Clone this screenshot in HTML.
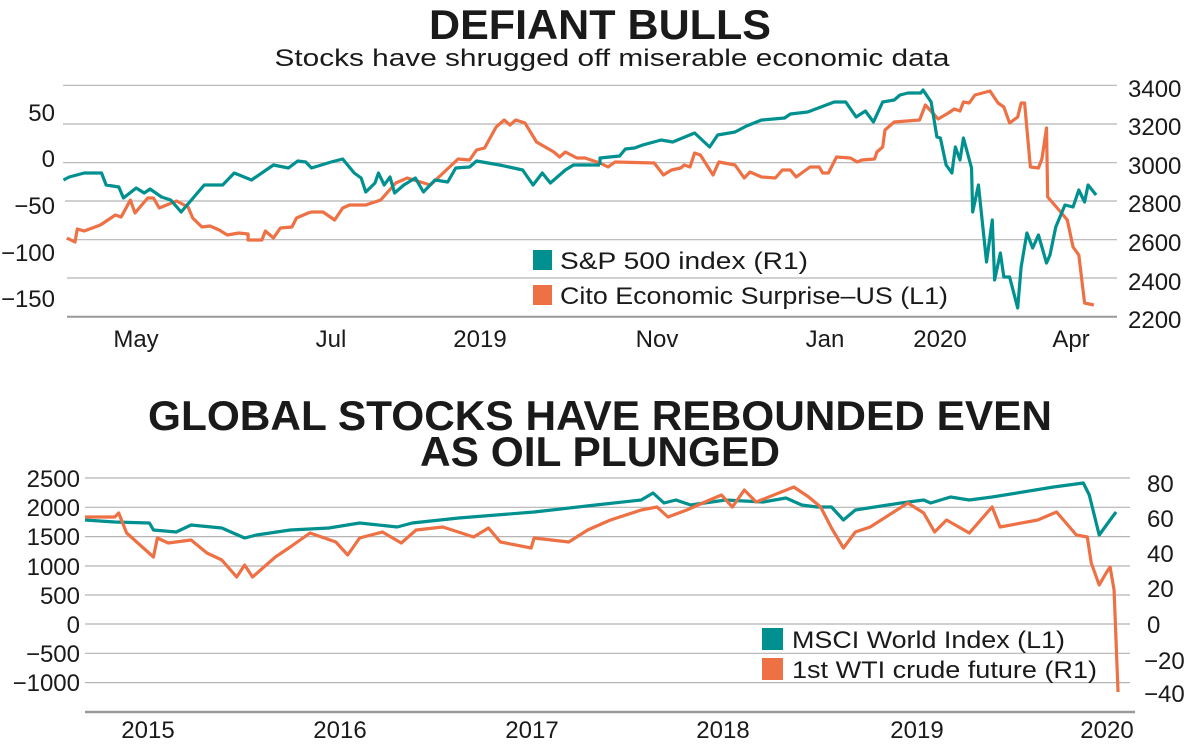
<!DOCTYPE html>
<html><head><meta charset="utf-8"><style>
html,body{margin:0;padding:0;background:#fff;}
svg{display:block;font-family:"Liberation Sans",sans-serif;}
</style></head><body>
<svg width="1200" height="746" viewBox="0 0 1200 746" xmlns="http://www.w3.org/2000/svg">
<g fill="#1a1a1a">
<text x="600" y="39" text-anchor="middle" font-size="42" font-weight="bold" textLength="342" lengthAdjust="spacingAndGlyphs">DEFIANT BULLS</text>
<text x="612" y="66" text-anchor="middle" font-size="24" textLength="675" lengthAdjust="spacingAndGlyphs">Stocks have shrugged off miserable economic data</text>
<text x="600" y="430" text-anchor="middle" font-size="42" font-weight="bold" textLength="904" lengthAdjust="spacingAndGlyphs">GLOBAL STOCKS HAVE REBOUNDED EVEN</text>
<text x="600" y="466" text-anchor="middle" font-size="42" font-weight="bold" textLength="360" lengthAdjust="spacingAndGlyphs">AS OIL PLUNGED</text>
</g>
<!-- top grid -->
<g stroke="#b5b5b5" stroke-width="1.2">
<line x1="63" y1="85.3" x2="1117" y2="85.3"/>
<line x1="63" y1="124" x2="1117" y2="124"/>
<line x1="63" y1="162.7" x2="1117" y2="162.7"/>
<line x1="65" y1="201" x2="1117" y2="201"/>
<line x1="66" y1="239.7" x2="1117" y2="239.7"/>
<line x1="67" y1="278" x2="1117" y2="278"/>
</g>
<line x1="67" y1="316.7" x2="1117" y2="316.7" stroke="#999" stroke-width="2"/>
<g font-size="24" fill="#1a1a1a" text-anchor="end">
<text x="55" y="121">50</text>
<text x="55" y="167">0</text>
<text x="55" y="214">−50</text>
<text x="55" y="261">−100</text>
<text x="55" y="307">−150</text>
</g>
<g font-size="24" fill="#1a1a1a">
<text x="1128" y="97">3400</text>
<text x="1128" y="135">3200</text>
<text x="1128" y="174">3000</text>
<text x="1128" y="212">2800</text>
<text x="1128" y="251">2600</text>
<text x="1128" y="290">2400</text>
<text x="1128" y="328">2200</text>
</g>
<g font-size="24" fill="#1a1a1a" text-anchor="middle">
<text x="136" y="347">May</text>
<text x="331" y="347">Jul</text>
<text x="480" y="347">2019</text>
<text x="657" y="347">Nov</text>
<text x="825" y="347">Jan</text>
<text x="940" y="347">2020</text>
<text x="1071" y="347">Apr</text>
</g>
<g fill="none" stroke-width="3.2" stroke-linejoin="round">
<g transform="scale(1.1538,1)">
<polyline stroke="#ee7145" vector-effect="non-scaling-stroke" points="58,238 65,242 67,229 73,231 87,225 100,215 105,217 113,200 117,213 128,198 133,198 138,208 153,201 163,207 167,218 175,227 182,226 190,230 197,235 207,233 215,234 215,240 227,240 230,231 237,238 243,228 253,227 257,218 267,213 270,212 280,212 290,220 297,208 303,205 317,205 330,200 343,183 353,178 373,185 397,159 407,160 413,150 420,148 430,127 437,120 442,125 447,120 455,123 465,142 480,152 485,157 490,152 500,158 507,158 520,163"/>
<polyline stroke="#009090" vector-effect="non-scaling-stroke" points="55,180 60,177 73,173 88,173 92,185 103,187 107,198 118,188 125,193 130,189 140,197 148,200 157,212 177,185 193,185 203,173 218,180 237,165 250,168 258,161 265,162 270,168 287,162 297,159 307,173 313,178 317,192 325,183 328,173 333,185 338,177 342,193 350,185 360,178 367,192 377,180 388,182 395,168 407,167 413,161 433,165 453,170 462,185 470,173 477,183 490,170 497,165 507,165 520,165"/>
</g>
<g transform="translate(600,0) scale(1.1538,1) translate(-600,0)">
<polyline stroke="#ee7145" vector-effect="non-scaling-stroke" points="600,163 607,167 613,162 647,163 655,175 662,170 670,168 673,165 678,167 682,153 687,155 698,175 703,162 717,165 725,178 730,172 740,177 752,178 758,170 765,170 770,177 782,167 790,167 793,173 798,173 805,157 817,158 823,162 827,160 838,159 840,152 845,147 847,130 855,122 877,120 882,105 890,115 893,119 902,113 907,109 912,111 915,102 920,103 925,95 938,91 945,103 950,107 955,123 962,117 965,103 968,103 973,167 980,168 983,159 987,128 988,197 1000,213 1005,220 1010,247 1015,255 1020,303 1028,305"/>
<polyline stroke="#009090" vector-effect="non-scaling-stroke" points="600,165 600,158 617,156 622,149 630,148 637,145 653,140 663,142 682,133 695,147 702,135 717,132 727,126 740,120 760,118 765,114 780,112 803,102 813,102 822,117 830,111 837,122 845,102 855,100 860,95 867,93 878,93 880,90 887,102 892,137 895,138 900,165 905,173 908,147 912,160 915,138 922,168 923,212 928,185 935,262 940,220 942,280 947,253 950,277 955,277 962,308 965,267 970,233 975,248 980,235 987,263 990,255 995,227 1003,205 1010,207 1015,190 1020,202 1023,185 1030,195"/>
</g>
</g>
<rect x="533" y="250" width="19" height="20" fill="#009090"/>
<rect x="533" y="285" width="19" height="20" fill="#ee7145"/>
<g font-size="24" fill="#1a1a1a">
<text x="560" y="269" textLength="248" lengthAdjust="spacingAndGlyphs">S&amp;P 500 index (R1)</text>
<text x="560" y="304" textLength="388" lengthAdjust="spacingAndGlyphs">Cito Economic Surprise–US (L1)</text>
</g>
<!-- bottom grid -->
<g stroke="#b5b5b5" stroke-width="1.2">
<line x1="85" y1="478" x2="1130" y2="478"/>
<line x1="85" y1="507.3" x2="1130" y2="507.3"/>
<line x1="85" y1="536.6" x2="1130" y2="536.6"/>
<line x1="85" y1="566" x2="1130" y2="566"/>
<line x1="85" y1="595" x2="1130" y2="595"/>
<line x1="85" y1="624" x2="1130" y2="624"/>
<line x1="85" y1="653.3" x2="1130" y2="653.3"/>
<line x1="85" y1="682.6" x2="1130" y2="682.6"/>
</g>
<line x1="85" y1="712" x2="1135" y2="712" stroke="#999" stroke-width="2.5"/>
<g font-size="24" fill="#1a1a1a" text-anchor="end">
<text x="80" y="487">2500</text>
<text x="80" y="516">2000</text>
<text x="80" y="545">1500</text>
<text x="80" y="575">1000</text>
<text x="80" y="604">500</text>
<text x="80" y="633">0</text>
<text x="80" y="662">−500</text>
<text x="80" y="691">−1000</text>
</g>
<g font-size="24" fill="#1a1a1a">
<text x="1147" y="492">80</text>
<text x="1147" y="527">60</text>
<text x="1147" y="562">40</text>
<text x="1147" y="597">20</text>
<text x="1147" y="633">0</text>
<text x="1144" y="669">−20</text>
<text x="1144" y="702">−40</text>
</g>
<g font-size="24" fill="#1a1a1a" text-anchor="middle">
<text x="148" y="738">2015</text>
<text x="340" y="738">2016</text>
<text x="532" y="738">2017</text>
<text x="723" y="738">2018</text>
<text x="917" y="738">2019</text>
<text x="1107" y="738">2020</text>
</g>
<g transform="translate(85,0) scale(0.9914,1) translate(-85,0)">
<polyline fill="none" stroke="#009090" stroke-width="3.2" vector-effect="non-scaling-stroke" stroke-linejoin="round" points="85,520 115,522 150,523 154,530 177,532 192,525 223,528 246,538 258,535 292,530 331,528 362,523 400,527 415,523 462,518 538,512 600,505 646,500 658,493 669,503 681,500 696,505 731,500 769,502 792,498 808,505 823,507 838,507 850,520 862,510 908,503 931,500 938,503 958,497 977,500 1000,497 1062,487 1092,483 1098,495 1108,535 1119,520 1125,512"/>
<polyline fill="none" stroke="#ee7145" stroke-width="3.2" vector-effect="non-scaling-stroke" stroke-linejoin="round" points="85,517 115,517 119,513 127,533 154,557 158,538 169,543 192,540 208,553 223,560 238,577 246,565 254,577 277,557 292,547 312,533 338,542 350,555 362,538 385,532 404,543 419,530 446,527 477,537 492,528 504,542 535,548 538,538 573,542 592,530 615,520 646,510 662,507 673,517 692,510 715,500 727,495 738,507 750,490 762,502 800,487 815,497 827,507 838,528 850,548 862,532 877,527 915,503 931,513 942,532 954,520 977,533 1000,507 1008,527 1046,520 1065,512 1085,535 1096,537 1100,563 1108,585 1115,573 1119,567 1123,590 1127,692"/>
</g>
<rect x="762" y="628" width="21" height="22" fill="#009090"/>
<rect x="762" y="658" width="21" height="22" fill="#ee7145"/>
<g font-size="24" fill="#1a1a1a">
<text x="792" y="648" textLength="273" lengthAdjust="spacingAndGlyphs">MSCI World Index (L1)</text>
<text x="792" y="678" textLength="305" lengthAdjust="spacingAndGlyphs">1st WTI crude future (R1)</text>
</g>
</svg>
</body></html>
